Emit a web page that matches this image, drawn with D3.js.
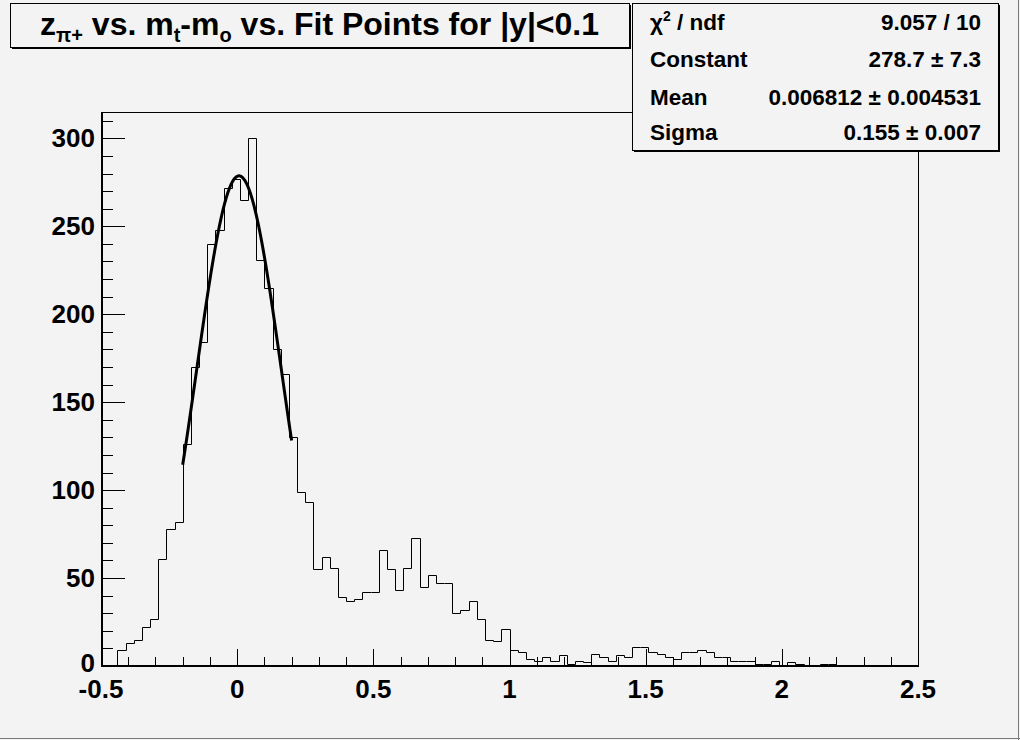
<!DOCTYPE html>
<html>
<head>
<meta charset="utf-8">
<script src="https://cdn.jsdelivr.net/npm/d3@7"></script>
<style>
  html, body { margin: 0; padding: 0; background: #f3f3f3; }
  svg { display: block; }
  text { font-family: "Liberation Sans", Arial, Helvetica, sans-serif; font-weight: bold; fill: #000; }
</style>
</head>
<body>
<svg id="chart" width="1020" height="740"></svg>
<script>
// ---------------- data ----------------
const xMin = -0.5;
const xMax = 2.5;
const nBins = 100;
const counts = [
  0, 0, 9, 13, 15, 22, 27, 61, 78, 82,
  126, 170, 184, 240, 248, 272, 277, 265, 300, 231,
  215, 180, 166, 130, 99, 93, 55, 62, 56, 39,
  37, 38, 42, 42, 66, 55, 43, 56, 73, 45,
  52, 47, 47, 30, 32, 37, 27, 15, 14, 21,
  9, 8, 4, 3, 5, 3, 6, 1, 3, 2,
  7, 5, 3, 6, 5, 11, 11, 8, 7, 5,
  4, 8, 8, 9, 8, 5, 5, 3, 3, 3,
  1, 1, 3, 0, 2, 1, 0, 0, 1, 1,
  0, 0, 0, 0, 0, 0, 0, 0, 0, 0
];
const yMax = 315;
const yMajorTicks = [0, 50, 100, 150, 200, 250, 300];
const xMajorTicks = [-0.5, 0, 0.5, 1, 1.5, 2, 2.5];
const fitConstant = 278.7;
const fitMean = 0.006812;
const fitSigma = 0.155;
const fitRange = [-0.2, 0.2];
const statLabels = ["χ2 / ndf", "Constant", "Mean", "Sigma"];
const statValues = ["9.057 / 10", "278.7 ± 7.3", "0.006812 ± 0.004531", "0.155 ± 0.007"];

// ---------------- layout ----------------
const svg = d3.select("#chart");
const W = 1020, H = 740;
const frame = { left: 101, right: 918, top: 112, bottom: 666 };

svg.append("rect").attr("x", 0).attr("y", 0).attr("width", W).attr("height", H).attr("fill", "#f3f3f3");
// canvas bevel
svg.append("line").attr("x1", W - 1.5).attr("x2", W - 1.5).attr("y1", 0).attr("y2", H).attr("stroke", "#7a7a7a").attr("stroke-width", 1);
svg.append("line").attr("x1", 0).attr("x2", W).attr("y1", H - 1.5).attr("y2", H - 1.5).attr("stroke", "#7a7a7a").attr("stroke-width", 1);

const x = d3.scaleLinear().domain([xMin, xMax]).range([frame.left, frame.right]);
const y = d3.scaleLinear().domain([0, yMax]).range([frame.bottom, frame.top]);

// frame
svg.append("rect")
  .attr("x", frame.left + 0.5).attr("y", frame.top + 0.5)
  .attr("width", frame.right - frame.left).attr("height", frame.bottom - frame.top)
  .attr("fill", "#f3f3f3").attr("stroke", "#000").attr("stroke-width", 1);

// histogram (step outline)
const binW = (xMax - xMin) / nBins;
const pts = [[xMin, 0]];
counts.forEach((c, i) => {
  const x0 = xMin + i * binW, x1 = xMin + (i + 1) * binW;
  pts.push([x0, c]); pts.push([x1, c]);
});
pts.push([xMax, 0]);
const line = d3.line().x(d => Math.round(x(d[0])) + 0.5).y(d => Math.round(y(d[1])) + 0.5);
svg.append("path").attr("d", line(pts)).attr("fill", "none").attr("stroke", "#000").attr("stroke-width", 1);

// fit curve
const fitPts = d3.range(0, 201).map(i => {
  const xv = fitRange[0] + (fitRange[1] - fitRange[0]) * i / 200;
  return [xv, fitConstant * Math.exp(-0.5 * Math.pow((xv - fitMean) / fitSigma, 2))];
});
svg.append("path")
  .attr("d", d3.line().x(d => x(d[0])).y(d => y(d[1]))(fitPts))
  .attr("fill", "none").attr("stroke", "#000").attr("stroke-width", 3);

// y axis
const yAxis = d3.axisLeft(y).tickValues(d3.range(0, 311, 10)).tickSize(0).tickFormat("");
const yg = svg.append("g").attr("transform", `translate(${frame.left},0)`).call(yAxis);
yg.select(".domain").remove();
yg.selectAll(".tick line")
  .attr("x1", 0)
  .attr("x2", d => (d % 50 === 0 ? 24 : 12))
  .attr("stroke", "#000").attr("stroke-width", 1);
yg.selectAll(".tick").attr("transform", d => `translate(0,${Math.round(y(d)) + 0.5})`);
svg.append("line").attr("x1", frame.left + 1).attr("x2", frame.left + 1)
  .attr("y1", frame.top).attr("y2", frame.bottom + 1).attr("stroke", "#000").attr("stroke-width", 2);
svg.selectAll(".ylab").data(yMajorTicks).enter().append("text")
  .attr("class", "ylab")
  .attr("x", frame.left - 6)
  .attr("y", d => y(d) + 9 - (d === 0 ? 3 : 0))
  .attr("text-anchor", "end")
  .attr("font-size", 26)
  .text(d => d3.format("d")(d));

// x axis
const xAxis = d3.axisBottom(x).tickValues(d3.range(-5, 26, 1).map(v => v / 10)).tickSize(0).tickFormat("");
const xg = svg.append("g").attr("transform", `translate(0,${frame.bottom})`).call(xAxis);
xg.select(".domain").remove();
xg.selectAll(".tick").attr("transform", d => `translate(${Math.round(x(d)) + 0.5},0)`);
xg.selectAll(".tick line")
  .attr("y1", 0)
  .attr("y2", d => (Math.abs(Math.round(d * 10) % 5) === 0 ? -17 : -9))
  .attr("stroke", "#000").attr("stroke-width", 1);
svg.append("line").attr("x1", frame.left).attr("x2", frame.right + 1)
  .attr("y1", frame.bottom).attr("y2", frame.bottom).attr("stroke", "#000").attr("stroke-width", 2);
svg.selectAll(".xlab").data(xMajorTicks).enter().append("text")
  .attr("class", "xlab")
  .attr("x", d => x(d))
  .attr("y", frame.bottom + 32)
  .attr("text-anchor", "middle")
  .attr("font-size", 26)
  .text(d => String(d));

// title box
const tb = { x: 10, y: 3, w: 619, h: 44 };
svg.append("rect").attr("x", tb.x + 2).attr("y", tb.y + 2).attr("width", tb.w).attr("height", tb.h).attr("fill", "#000");
svg.append("rect").attr("x", tb.x + 0.5).attr("y", tb.y + 0.5).attr("width", tb.w).attr("height", tb.h)
  .attr("fill", "#f3f3f3").attr("stroke", "#000").attr("stroke-width", 1);
const title = svg.append("text").attr("x", tb.x + tb.w / 2).attr("y", 35).attr("text-anchor", "middle").attr("font-size", 32);
title.append("tspan").text("z");
title.append("tspan").attr("font-size", 20).attr("dy", 7).text("π+");
title.append("tspan").attr("dy", -7).text(" vs. m");
title.append("tspan").attr("font-size", 20).attr("dy", 7).text("t");
title.append("tspan").attr("dy", -7).text("-m");
title.append("tspan").attr("font-size", 20).attr("dy", 7).text("o");
title.append("tspan").attr("dy", -7).text(" vs. Fit Points for |y|<0.1");

// stats box
const sb = { x: 632, y: 3, w: 366, h: 147 };
svg.append("rect").attr("x", sb.x + 2).attr("y", sb.y + 2).attr("width", sb.w).attr("height", sb.h).attr("fill", "#000");
svg.append("rect").attr("x", sb.x + 0.5).attr("y", sb.y + 0.5).attr("width", sb.w).attr("height", sb.h)
  .attr("fill", "#f3f3f3").attr("stroke", "#000").attr("stroke-width", 1);
const rowY = [30, 67, 105, 140];
statLabels.forEach((lab, i) => {
  const t = svg.append("text").attr("x", 650).attr("y", rowY[i]).attr("font-size", 22.5);
  if (i === 0) {
    t.append("tspan").text("χ");
    t.append("tspan").attr("font-size", 14).attr("dy", -9).text("2");
    t.append("tspan").attr("dy", 9).text(" / ndf");
  } else {
    t.text(lab);
  }
  svg.append("text").attr("x", 981).attr("y", rowY[i]).attr("text-anchor", "end").attr("font-size", 22.5).text(statValues[i]);
});
</script>
</body>
</html>
